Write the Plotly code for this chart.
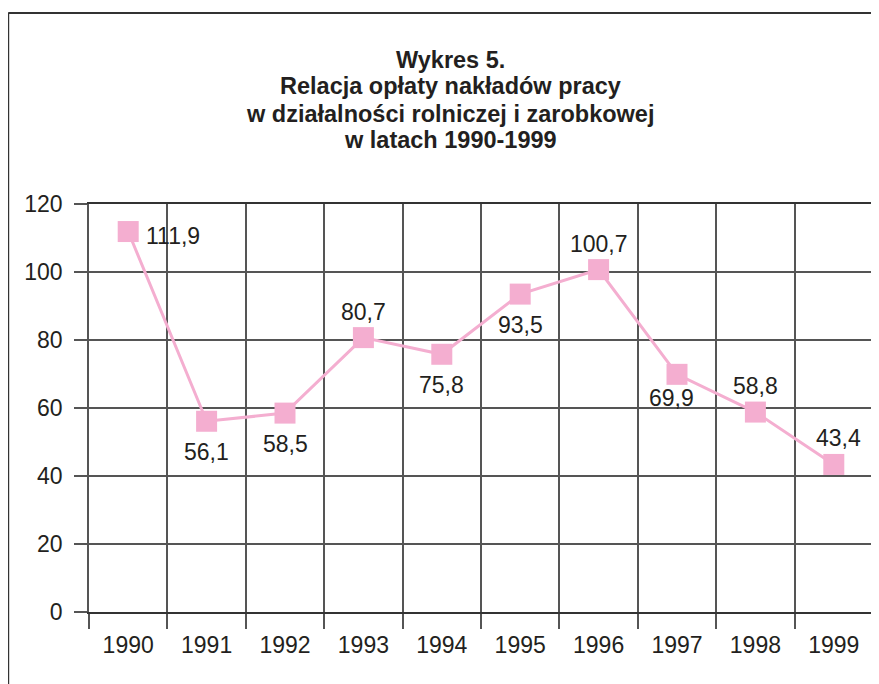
import plotly.graph_objects as go

years = ["1990", "1991", "1992", "1993", "1994", "1995", "1996", "1997", "1998", "1999"]
values = [111.9, 56.1, 58.5, 80.7, 75.8, 93.5, 100.7, 69.9, 58.8, 43.4]
label_side = ["right", "below", "below", "above", "below", "below", "above", "below", "above", "above"]
title_lines = ["Wykres 5.", "Relacja opłaty nakładów pracy",
               "w działalności rolniczej i zarobkowej", "w latach 1990-1999"]
y_ticks = [0, 20, 40, 60, 80, 100, 120]

PINK = "#F4AED0"
TXT = "#231F20"
GRID = "#555555"
FONT = "Liberation Sans"

W, H = 879, 684
OFF = 8  # page body margin
# target plot area in screen pixels: x 89..875, y 204..612
L, R, T, B = 89 - OFF, W - (875 - OFF), 204 - OFF, H - (612 - OFF)
pw, ph = W - L - R, H - T - B

def px_x(p):
    return (p - OFF - L) / pw

def px_y(p):
    return (H - B - (p - OFF)) / ph

fig = go.Figure()
fig.add_trace(go.Scatter(
    x=years, y=values, mode="lines+markers",
    line=dict(color=PINK, width=3),
    marker=dict(symbol="square", size=21, color=PINK, line=dict(width=0)),
    hoverinfo="skip", showlegend=False,
))

annotations = []
for i, (yr, v, side) in enumerate(zip(years, values, label_side)):
    txt = f"{v:.1f}".replace(".", ",")
    a = dict(x=i, y=v, xref="x", yref="y", text=txt, showarrow=False,
             font=dict(family=FONT, size=23, color=TXT))
    if side == "right":
        a.update(xanchor="left", yanchor="middle", xshift=16, yshift=-4)
    elif side == "below":
        a.update(xanchor="center", yanchor="middle", yshift=-31)
        if yr == "1997":
            a.update(yshift=-24, xshift=-6)
    else:
        a.update(xanchor="center", yanchor="middle", yshift=26)
        if yr == "1999":
            a.update(xshift=5)
    annotations.append(a)

centers = [60, 86, 114, 140]
for line, c in zip(title_lines, centers):
    annotations.append(dict(
        x=px_x(451), y=px_y(c), xref="paper", yref="paper",
        text=f"<b>{line}</b>", showarrow=False, xanchor="center", yanchor="middle",
        font=dict(family=FONT, size=23.5, color=TXT)))

fig.update_layout(
    width=W, height=H,
    margin=dict(l=L, r=R, t=T, b=B, pad=0),
    paper_bgcolor="white", plot_bgcolor="white",
    annotations=annotations,
    shapes=[
        dict(type="line", xref="paper", yref="paper", x0=px_x(8), x1=px_x(8),
             y0=px_y(13), y1=px_y(720), line=dict(color="#333333", width=2)),
        dict(type="line", xref="paper", yref="paper", x0=px_x(8), x1=px_x(920),
             y0=px_y(13), y1=px_y(13), line=dict(color="#333333", width=2)),
    ],
    xaxis=dict(
        type="category", tickson="boundaries", ticks="outside", ticklen=15,
        tickcolor=GRID, tickwidth=1.5, showgrid=True, gridcolor=GRID, gridwidth=1.5,
        showline=True, linecolor="#333333", linewidth=1.5, mirror=True,
        tickfont=dict(family=FONT, size=23, color=TXT), ticklabelstandoff=12,
        range=[-0.5, 9.5],
    ),
    yaxis=dict(
        range=[0, 120], tickvals=y_ticks, ticks="outside", ticklen=13,
        tickcolor=GRID, tickwidth=1.5, showgrid=True, gridcolor=GRID, gridwidth=1.5,
        showline=True, linecolor=GRID, linewidth=1.5, mirror=True, zeroline=False,
        tickfont=dict(family=FONT, size=23, color=TXT), ticklabelstandoff=7,
    ),
)

fig.write_html("out.html")
